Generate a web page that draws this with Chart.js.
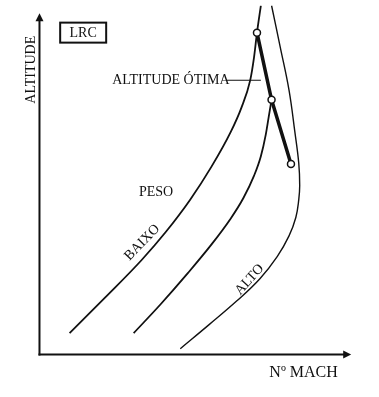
<!DOCTYPE html>
<html><head><meta charset="utf-8">
<script src="https://cdn.jsdelivr.net/npm/chart.js@4/dist/chart.umd.min.js"></script>
<style>html,body{margin:0;padding:0;background:#fff;}#wrap{width:379px;height:397px;position:relative;}</style>
</head><body><div id="wrap"><canvas id="c"></canvas></div>
<script>
// Schematic: altitude vs Mach number for LRC at three weights (arbitrary units 0-100)
const weightLabels = ['BAIXO', 'MÉDIO', 'ALTO'];
const baixoMach = [9.69, 21.25, 32.81, 40.63, 48.44, 55.31, 61.56, 65.0, 67.81, 69.06, 70.0, 71.25];
const baixoAlt  = [6.29, 16.86, 27.71, 36.0, 45.43, 55.14, 65.43, 72.57, 80.57, 87.43, 94.57, 102.57];
const medioMach = [30.31, 39.06, 47.81, 55.31, 61.56, 65.63, 69.06, 71.25, 72.81, 73.75, 74.69];
const medioAlt  = [6.29, 14.86, 24.0, 32.29, 40.0, 46.0, 52.57, 58.29, 64.57, 69.71, 74.86];
const altoMach  = [45.31, 54.69, 63.44, 70.94, 76.56, 80.31, 82.5, 83.44, 83.75, 83.44, 82.19, 80.31, 77.5, 74.69];
const altoAlt   = [1.71, 8.86, 15.71, 22.29, 28.86, 34.86, 40.29, 45.43, 49.71, 56.29, 65.43, 77.71, 90.29, 102.57];
const otimaMach = [70.0, 74.69, 80.94];
const otimaAlt  = [94.57, 74.86, 56.0];
const axisTitles = ['ALTITUDE', 'Nº MACH'];
const boxLabel = 'LRC';
const otimaLabel = 'ALTITUDE ÓTIMA';
const pesoLabel = 'PESO';

const toPts = (xs, ys) => xs.map((x, i) => ({x, y: ys[i]}));
const INK = '#111';
const FONT = '"Liberation Serif", "Times New Roman", serif';

const decor = {
  id: 'decor',
  afterDraw(chart) {
    const {ctx, scales: {x, y}} = chart;
    const X = v => x.getPixelForValue(v), Y = v => y.getPixelForValue(v);
    ctx.save();
    ctx.strokeStyle = INK; ctx.fillStyle = INK; ctx.lineWidth = 2;
    const ox = X(0), oy = Y(0), xe = X(100), ye = Y(100);
    ctx.beginPath(); ctx.moveTo(ox - 1, oy); ctx.lineTo(xe - 4, oy); ctx.stroke();
    ctx.beginPath(); ctx.moveTo(ox, oy + 1); ctx.lineTo(ox, ye + 4); ctx.stroke();
    ctx.beginPath(); ctx.moveTo(xe + 1, oy); ctx.lineTo(xe - 7, oy - 4); ctx.lineTo(xe - 7, oy + 4); ctx.closePath(); ctx.fill();
    ctx.beginPath(); ctx.moveTo(ox, ye - 1); ctx.lineTo(ox - 4, ye + 7); ctx.lineTo(ox + 4, ye + 7); ctx.closePath(); ctx.fill();

    ctx.font = '14px ' + FONT;
    ctx.textAlign = 'center'; ctx.textBaseline = 'middle';
    // LRC box
    const bx = X(14.06), by = Y(94.6);
    ctx.lineWidth = 2;
    ctx.strokeRect(bx - 23, by - 10, 46, 20);
    ctx.fillText(boxLabel, bx, by + 1);
    // y axis title
    ctx.save(); ctx.translate(X(-2.5), Y(83.7)); ctx.rotate(-Math.PI / 2);
    ctx.fillText(axisTitles[0], 0, 0); ctx.restore();
    // x axis title
    ctx.font = '16px ' + FONT;
    ctx.fillText(axisTitles[1], X(85.0), Y(-5.4));
    ctx.font = '14px ' + FONT;
    // optimum label + leader
    ctx.textAlign = 'left';
    ctx.fillText(otimaLabel, X(23.4), Y(80.6));
    ctx.lineWidth = 1.2;
    ctx.beginPath(); ctx.moveTo(X(60.3), Y(80.6)); ctx.lineTo(X(71.25), Y(80.6)); ctx.stroke();
    ctx.textAlign = 'center';
    ctx.fillText(pesoLabel, X(37.5), Y(47.7));
    // curve labels
    ctx.save(); ctx.translate(X(33.1), Y(32.9)); ctx.rotate(-46 * Math.PI / 180);
    ctx.fillText(weightLabels[0], 0, 0); ctx.restore();
    ctx.save(); ctx.translate(X(67.6), Y(22.0)); ctx.rotate(-48 * Math.PI / 180);
    ctx.fillText(weightLabels[2], 0, 0); ctx.restore();
    ctx.restore();
  }
};

const curve = (xs, ys, w, mono) => ({
  data: toPts(xs, ys), showLine: true, borderColor: INK, borderWidth: w,
  pointRadius: 0, fill: false,
  tension: 0.4, cubicInterpolationMode: mono ? 'monotone' : 'default'
});

new Chart(document.getElementById('c'), {
  type: 'scatter',
  data: {
    datasets: [
      { data: toPts(otimaMach, otimaAlt), showLine: true, borderColor: INK, borderWidth: 3.5,
        tension: 0, pointRadius: 3.5, pointBackgroundColor: '#fff', pointBorderColor: INK,
        pointBorderWidth: 1.5, fill: false },
      curve(baixoMach, baixoAlt, 1.8, true),
      curve(medioMach, medioAlt, 1.8, true),
      curve(altoMach, altoAlt, 1.4, false)
    ]
  },
  options: {
    responsive: true, maintainAspectRatio: false, animation: false,
    layout: { padding: 0 },
    plugins: { legend: { display: false }, tooltip: { enabled: false } },
    scales: {
      x: { type: 'linear', display: false, min: -35 / 3.2, max: (379 - 35) / 3.2 },
      y: { type: 'linear', display: false, min: -(397 - 359) / 3.5, max: 359 / 3.5 }
    }
  },
  plugins: [decor]
});
</script>
</body></html>
